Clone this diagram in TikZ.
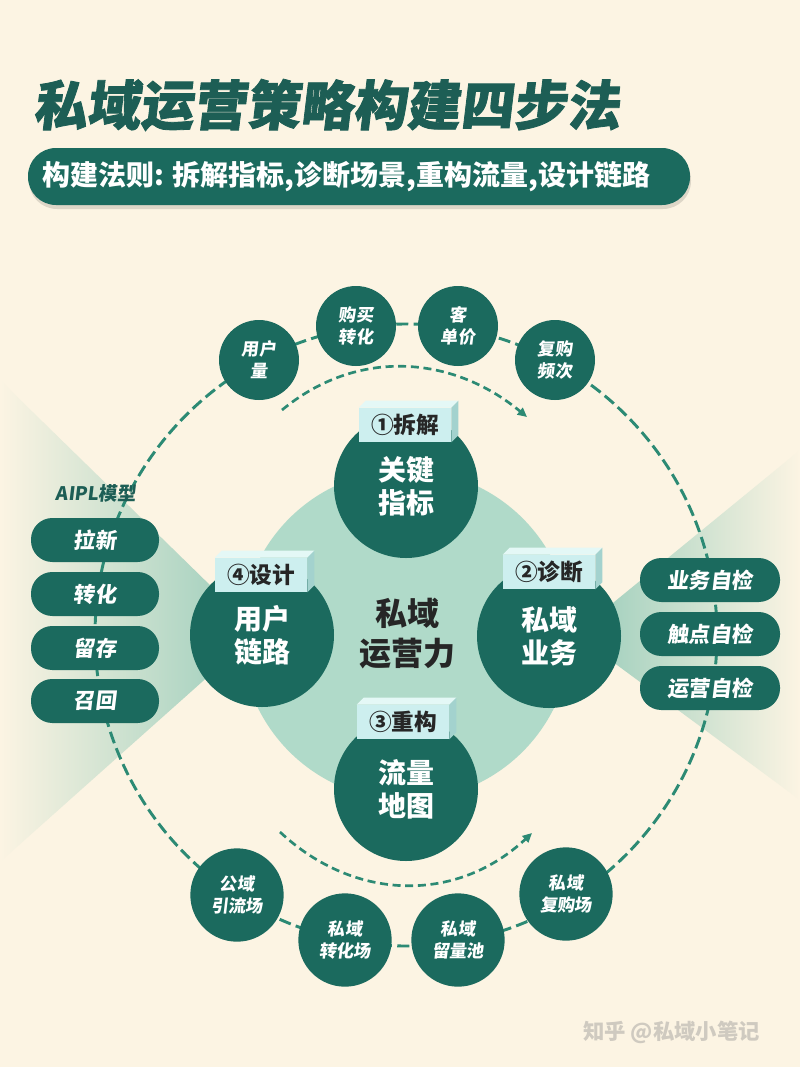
\documentclass[tikz,border=0pt]{standalone}
\usepackage{fontspec}
\setmainfont{Noto Sans CJK SC}
\newfontfamily\slantfont{Noto Sans CJK SC}[FakeSlant=0.12]
\newfontfamily\titlefont{Noto Sans CJK SC}[FakeSlant=0.12,FakeBold=1.5]
\usetikzlibrary{calc,arrows.meta}
\definecolor{bgc}{HTML}{FCF4E3}
\definecolor{dteal}{HTML}{1B6A5E}
\definecolor{dashc}{HTML}{2C8A74}
\definecolor{lightc}{HTML}{B0DAC9}
\definecolor{wedgec}{HTML}{98CCBA}
\definecolor{lcyan}{HTML}{CDEFEF}
\definecolor{lcyantop}{HTML}{E4F8F6}
\definecolor{lcyanside}{HTML}{A3D2CE}
\definecolor{titlec}{HTML}{1D5E55}
\definecolor{ctext}{HTML}{262626}
\definecolor{wmark}{HTML}{CFCAC0}
\newcommand\lblfaces[1]{%
  \fill[lcyantop] (#1.north west) -- ++(7,-7) -- ($(#1.north east)+(7,-7)$) -- (#1.north east) -- cycle;
  \fill[lcyanside] (#1.north east) -- ++(7,-7) -- ($(#1.south east)+(7,-7)$) -- (#1.south east) -- cycle;
}
\begin{document}
\begin{tikzpicture}[x=0.75pt,y=-0.75pt,
  bigc/.style={circle,fill=dteal,minimum size=108pt,inner sep=0pt,text=white,align=center,
    font=\bfseries\fontsize{21}{25}\selectfont},
  smallc/.style={circle,fill=dteal,minimum size=60pt,inner sep=0pt,text=white,align=center,
    font=\slantfont\bfseries\fontsize{13}{16.5}\selectfont},
  smallcb/.style={smallc,minimum size=70pt},
  lpill/.style={rectangle,rounded corners=16pt,fill=dteal,minimum width=96pt,minimum height=33pt,
    inner sep=0pt,text=white,font=\slantfont\bfseries\fontsize{16}{18}\selectfont},
  rpill/.style={lpill,minimum width=105pt},
  lblbox/.style={rectangle,fill=lcyan,minimum width=69pt,minimum height=25.5pt,inner sep=0pt,
    text=ctext,font=\bfseries\fontsize{17}{20}\selectfont},
  outerdash/.style={draw=dashc,line width=2.2pt,dash pattern=on 9pt off 4pt},
  innerdash/.style={draw=dashc,line width=2pt,dash pattern=on 6pt off 3.5pt}
]
\useasboundingbox (0,0) rectangle (800,1067);
\fill[bgc] (0,0) rectangle (800,1067);
% wedges
\shade[left color=bgc, right color=wedgec] (0,380) -- (258,632) -- (0,862) -- cycle;
\shade[left color=wedgec, right color=bgc] (575,634) -- (800,450) -- (800,800) -- cycle;
% central light disc
\coordinate (ctr) at (406,635);
\fill[lightc] (ctr) circle (165);
% outer dashed ring
\draw[outerdash] (ctr) circle (311);
% inner arcs
\coordinate (ta) at (282,410);
\coordinate (tb) at (527,417);
\draw[innerdash,-{Triangle[length=7pt,width=6.5pt]}] (ta) .. controls (357,348) and (452,355) .. (tb);
\coordinate (ba) at (280,832);
\coordinate (bb) at (532,833);
\draw[innerdash,-{Triangle[length=7pt,width=6.5pt]}] (ba) .. controls (355,902) and (457,903) .. (bb);
% main circles
\node[bigc] (k) at (406,486) {关键\\指标};
\node[bigc] (u) at (262,635) {用户\\链路};
\node[bigc] (s) at (549,636) {私域\\业务};
\node[bigc] (f) at (406,789) {流量\\地图};
\node[font=\bfseries\fontsize{24}{30}\selectfont,text=ctext,align=center] (core) at (407,634) {私域\\运营力};
% step labels
\node[lblbox] (l1) at (405,425) {①拆解};
\lblfaces{l1}
\node[lblbox] (l4) at (261,575) {④设计};
\lblfaces{l4}
\node[lblbox] (l2) at (549,572) {②诊断};
\lblfaces{l2}
\node[lblbox] (l3) at (403,722) {③重构};
\lblfaces{l3}
% top small circles
\node[smallc] (t1) at (259,360) {用户\\量};
\node[smallc] (t2) at (356,326) {购买\\转化};
\node[smallc] (t3) at (458,326) {客\\单价};
\node[smallc] (t4) at (555,360) {复购\\频次};
% bottom small circles
\node[smallcb] (b1) at (237,895) {公域\\引流场};
\node[smallcb] (b2) at (345,940) {私域\\转化场};
\node[smallcb] (b3) at (458,940) {私域\\留量池};
\node[smallcb] (b4) at (566,894) {私域\\复购场};
% AIPL pills
\node[font=\slantfont\bfseries\fontsize{14}{16}\selectfont,text=titlec] (aipl) at (96,493) {AIPL模型};
\node[lpill] (p1) at (95,540) {拉新};
\node[lpill] (p2) at (95,594) {转化};
\node[lpill] (p3) at (95,648) {留存};
\node[lpill] (p4) at (95,701) {召回};
% right pills
\node[rpill] (r1) at (710,580) {业务自检};
\node[rpill] (r2) at (710,634) {触点自检};
\node[rpill] (r3) at (710,688) {运营自检};
% title and banner
\node[anchor=west,inner sep=0pt,text=titlec,font=\titlefont\bfseries\fontsize{40}{44}\selectfont] (title) at (33,105) {私域运营策略构建四步法};
\fill[black,opacity=0.12,rounded corners=21pt] (29,152) rectangle (691,209);
\node[rectangle,rounded corners=21pt,fill=dteal,minimum width=496.5pt,minimum height=42.75pt,inner sep=0pt] (banner) at (359,176.5) {};
\node[anchor=west,inner sep=0pt,text=white,font=\bfseries\fontsize{21}{24}\selectfont] (rule) at (42,177) {构建法则: 拆解指标,诊断场景,重构流量,设计链路};
% watermark
\node[anchor=west,inner sep=0pt,text=wmark,font=\bfseries\fontsize{16}{18}\selectfont] (wm) at (583,1032) {知乎 @私域小笔记};
\end{tikzpicture}
\end{document}
